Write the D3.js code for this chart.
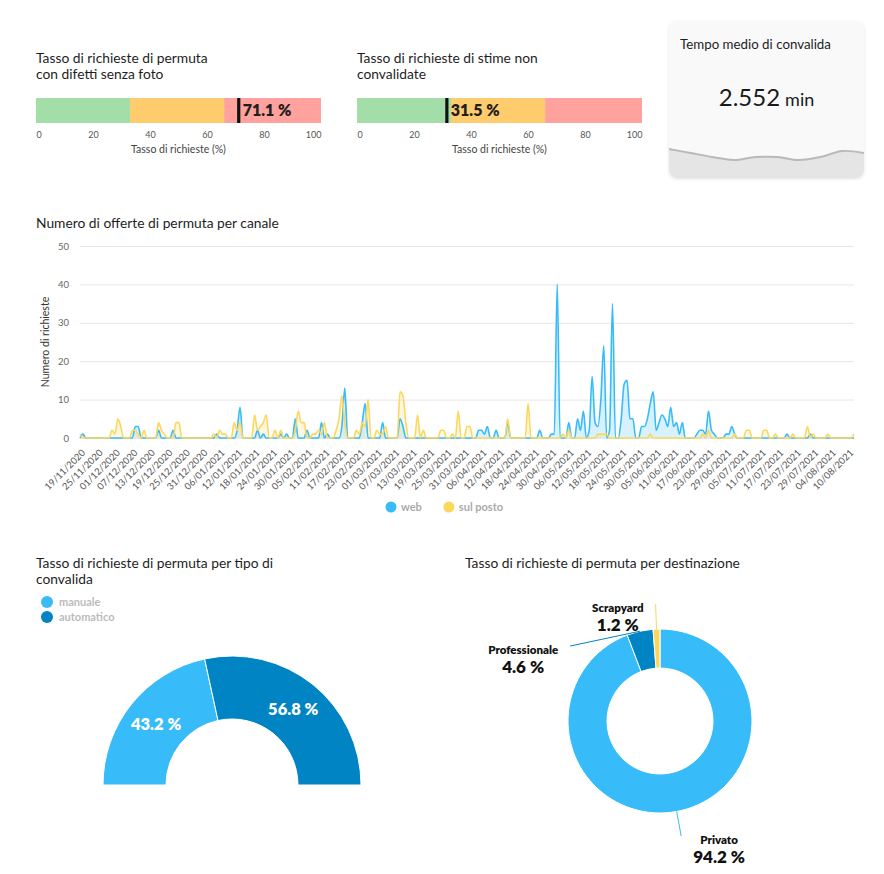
<!DOCTYPE html>
<html>
<head>
<meta charset="utf-8">
<script src="https://cdn.jsdelivr.net/npm/d3@7"></script>
<style>
  body { margin: 0; background: #fff; }
  svg text { font-family: Lato, "Noto Sans", sans-serif; }
</style>
</head>
<body>
<svg id="chart" width="884" height="874"></svg>
<script>
// ---- data ----
const gaugeTitles = [
  ["Tasso di richieste di permuta", "con difetti senza foto"],
  ["Tasso di richieste di stime non", "convalidate"]
]
const gaugeValues = [71.1, 31.5]
const gaugeBands = [0, 33, 66, 100]
const gaugeTicks = [0, 20, 40, 60, 80, 100]
const gaugeAxisTitle = "Tasso di richieste (%)"

const cardTitle = "Tempo medio di convalida"
const cardValue = "2.552"
const cardUnit = "min"
const cardWave = [29, 25, 21, 18, 21, 21, 18, 21, 27, 25]

const lineTitle = "Numero di offerte di permuta per canale"
const lineYTitle = "Numero di richieste"
const firstDay = new Date(Date.UTC(2020, 10, 19))
const seriesNames = ["web", "sul posto"]
const yTicks = [0, 10, 20, 30, 40, 50]
// daily counts from 19/11/2020 to 12/08/2021
const webCounts = [
  0,1,0,0,0,0,0,0,0,0,  0,0,0,0,0,0,0,0,0,3,  3,0,0,0,0,0,0,2,0,0,
  0,0,2,0,0,0,0,0,0,0,  0,0,0,0,0,0,0,1,0,0,  0,0,0,0,2,8,0,0,0,0,
  0,2,0,1,0,0,0,0,0,1,  0,1,0,0,5,0,0,0,2,0,  0,0,0,4,0,1,0,0,0,0,
  3,13,0,0,0,0,0,4,9,0, 0,0,0,0,4,0,0,0,0,0,  5,3,0,0,0,0,0,0,0,0,
  0,0,0,0,0,0,0,0,0,0,  0,0,0,0,0,0,0,2,2,1,  3,0,0,2,0,0,0,4,0,0,
  0,0,0,0,0,0,0,0,2,0,  0,0,1,1,40,0,0,0,4,0, 0,5,2,7,0,2,16,4,3,10,
  24,0,2,35,0,0,5,14,15,5, 5,0,0,3,3,5,9,12,2,4, 6,5,3,8,3,4,1,4,0,0,
  0,0,1,2,2,1,7,2,1,0,  0,0,1,1,3,1,0,0,0,0,  0,0,0,0,0,0,0,0,0,0,
  0,0,0,1,0,0,0,0,0,0,  0,1,0,0,0,0,0,0,0,0,  0,0,0,0,0,0,0
]
const sulPostoCounts = [
  1,0,0,0,0,0,0,0,0,0,  0,2,1,5,3,0,0,0,2,2,  1,0,2,0,0,0,0,4,2,1,
  0,0,0,4,4,0,0,0,0,0,  0,0,0,0,0,0,1,0,2,1,  1,0,0,4,2,4,0,0,0,0,
  6,2,3,4,6,0,0,2,0,2,  0,0,0,0,2,7,4,4,0,0,  1,1,2,1,4,0,0,0,2,5,
  11,4,0,0,0,2,1,4,3,10, 0,0,2,1,1,3,0,0,0,0, 12,11,4,0,0,0,6,0,2,0,
  0,0,0,0,2,2,0,0,1,0,  7,0,0,3,3,0,0,0,0,0,  0,0,0,0,0,0,0,5,0,0,
  0,0,0,0,9,0,0,0,0,0,  0,0,0,0,0,0,1,0,2,0,  0,0,0,0,0,0,0,0,1,1,
  1,1,0,0,0,0,0,0,0,0,  0,0,0,0,0,0,1,0,0,0,  0,0,0,0,0,0,0,0,0,0,
  0,0,0,0,1,0,2,0,0,0,  0,0,0,0,0,1,0,0,0,2,  2,0,0,0,0,2,2,0,0,1,
  0,0,0,0,0,1,0,0,0,0,  3,0,1,0,0,0,0,1,0,0,  0,0,0,0,0,0,1
]

const validationTitle = ["Tasso di richieste di permuta per tipo di", "convalida"]
const validationTypes = ["manuale", "automatico"]
const validationShares = [43.2, 56.8]

const destinationTitle = "Tasso di richieste di permuta per destinazione"
const destinations = ["Privato", "Professionale", "Scrapyard"]
const destinationShares = [94.2, 4.6, 1.2]

// ---- colours ----
const lightBlue = "#38bcf9"
const darkBlue = "#0084c4"
const yellow = "#fbd75e"
const bandColours = ["#a3dea9", "#fecb6d", "#ffa19c"]
const titleSize = 13.8

const svg = d3.select("#chart")
const fmt = v => String(v) + " %"

// ---- gauges ----
const gaugeLeft = [36, 357]
const gaugeWidth = 285, gaugeTop = 98, gaugeH = 25

gaugeValues.forEach(function (val, i) {
  const g = svg.append("g").attr("transform", `translate(${gaugeLeft[i]},${gaugeTop})`)
  const x = d3.scaleLinear().domain([0, 100]).range([0, gaugeWidth])

  g.selectAll("text.title").data(gaugeTitles[i]).join("text")
    .attr("class", "title")
    .attr("x", 0).attr("y", (d, j) => -35 + j * 16)
    .attr("font-size", titleSize).attr("fill", "#1e1e1e")
    .text(d => d)

  g.selectAll("rect.band").data(d3.pairs(gaugeBands)).join("rect")
    .attr("class", "band")
    .attr("x", d => x(d[0])).attr("width", d => x(d[1]) - x(d[0]))
    .attr("y", 0).attr("height", gaugeH)
    .attr("fill", (d, j) => bandColours[j])

  g.append("rect")
    .attr("x", x(val) - 1.5).attr("width", 3.2)
    .attr("y", 0).attr("height", gaugeH)
    .attr("fill", "#111")

  g.append("text")
    .attr("x", x(val) + 4).attr("y", gaugeH / 2).attr("dy", "0.36em")
    .attr("font-size", 16).attr("font-weight", 800).attr("fill", "#1e1e1e")
    .text(fmt(val))

  const axis = g.append("g").attr("transform", `translate(0,${gaugeH})`)
    .call(d3.axisBottom(x).tickValues(gaugeTicks).tickSize(0).tickPadding(9))
  axis.select(".domain").remove()
  axis.selectAll("text")
    .attr("font-size", 9).attr("fill", "#555").style("font-family", "Lato, sans-serif")
    .attr("text-anchor", (d, j) => j === 0 ? "start" : (j === gaugeTicks.length - 1 ? "end" : "middle"))

  g.append("text")
    .attr("x", gaugeWidth / 2).attr("y", 55)
    .attr("text-anchor", "middle").attr("font-size", 10.5).attr("fill", "#444")
    .text(gaugeAxisTitle)
})

// ---- KPI card ----
const card = { x: 669, y: 21, w: 195, h: 157 }
const defs = svg.append("defs")
defs.append("filter").attr("id", "shadow").attr("x", "-10%").attr("y", "-10%").attr("width", "120%").attr("height", "120%")
  .append("feDropShadow").attr("dx", 0).attr("dy", 1).attr("stdDeviation", 1.5)
  .attr("flood-color", "#000").attr("flood-opacity", 0.12)
defs.append("clipPath").attr("id", "cardClip")
  .append("rect").attr("x", card.x).attr("y", card.y).attr("width", card.w).attr("height", card.h).attr("rx", 8)

svg.append("rect")
  .attr("x", card.x).attr("y", card.y).attr("width", card.w).attr("height", card.h).attr("rx", 8)
  .attr("fill", "#f9f9f9").attr("filter", "url(#shadow)")

const waveX = d3.scaleLinear().domain([0, cardWave.length - 1]).range([card.x, card.x + card.w])
const waveY = d3.scaleLinear().domain([0, 30]).range([card.y + card.h, card.y + card.h - 30])
const waveG = svg.append("g").attr("clip-path", "url(#cardClip)")
waveG.append("path")
  .attr("d", d3.area().x((d, i) => waveX(i)).y0(card.y + card.h).y1(d => waveY(d)).curve(d3.curveCatmullRom)(cardWave))
  .attr("fill", "#e5e5e5")
waveG.append("path")
  .attr("d", d3.line().x((d, i) => waveX(i)).y(d => waveY(d)).curve(d3.curveCatmullRom)(cardWave))
  .attr("fill", "none").attr("stroke", "#b9b9b9").attr("stroke-width", 2)

svg.append("text").attr("x", card.x + 11).attr("y", 48.5)
  .attr("font-size", 13.3).attr("fill", "#1e1e1e").text(cardTitle)
const kpi = svg.append("text").attr("x", card.x + card.w / 2).attr("y", 106)
  .attr("text-anchor", "middle").attr("fill", "#1a1a1a")
kpi.append("tspan").attr("font-size", 24).text(cardValue)
kpi.append("tspan").attr("font-size", 18).attr("dx", 5).text(cardUnit)

// ---- line chart ----
const plot = { left: 80, right: 854, top: 246, bottom: 438 }
svg.append("text").attr("x", 36).attr("y", 227.5)
  .attr("font-size", titleSize).attr("fill", "#1e1e1e").text(lineTitle)

const days = webCounts.map((d, i) => d3.utcDay.offset(firstDay, i))
const x = d3.scaleUtc().domain([days[0], days[days.length - 1]]).range([plot.left, plot.right])
const y = d3.scaleLinear().domain([0, 50]).range([plot.bottom, plot.top])

const yAxis = svg.append("g").attr("transform", `translate(${plot.left},0)`)
  .call(d3.axisLeft(y).tickValues(yTicks).tickSize(-(plot.right - plot.left)).tickPadding(11))
yAxis.select(".domain").remove()
yAxis.selectAll("line").attr("stroke", "#e6e6e6")
yAxis.selectAll("text").attr("font-size", 9.5).attr("fill", "#666").style("font-family", "Lato, sans-serif")

svg.append("text")
  .attr("transform", `translate(49,${(plot.top + plot.bottom) / 2}) rotate(-90)`)
  .attr("text-anchor", "middle").attr("font-size", 10.5).attr("fill", "#333")
  .text(lineYTitle)

const tickDates = d3.range(0, days.length, 6).map(i => days[i])
const xAxis = svg.append("g").attr("transform", `translate(0,${plot.bottom})`)
  .call(d3.axisBottom(x).tickValues(tickDates).tickFormat(d3.utcFormat("%d/%m/%Y")).tickSize(0))
xAxis.select(".domain").remove()
xAxis.selectAll("text")
  .attr("font-size", 9.5).attr("fill", "#555").style("font-family", "Lato, sans-serif")
  .attr("text-anchor", "end")
  .attr("dy", "0.35em")
  .attr("transform", "translate(3,13) rotate(-45)")
  .attr("y", 0)

const seriesData = [webCounts, sulPostoCounts]
const seriesColours = [lightBlue, yellow]
const area = d3.area().x((d, i) => x(days[i])).y0(y(0)).y1(d => y(d)).curve(d3.curveMonotoneX)
const line = d3.line().x((d, i) => x(days[i])).y(d => y(d)).curve(d3.curveMonotoneX)

svg.selectAll("path.area").data(seriesData).join("path")
  .attr("class", "area")
  .attr("d", area)
  .attr("fill", (d, i) => seriesColours[i]).attr("fill-opacity", 0.2)
svg.selectAll("path.line").data(seriesData).join("path")
  .attr("class", "line")
  .attr("d", line)
  .attr("fill", "none").attr("stroke", (d, i) => seriesColours[i]).attr("stroke-width", 1.6)

// legend
let lx = 386
seriesNames.forEach(function (name, i) {
  const lg = svg.append("g").attr("transform", `translate(${lx},507)`)
  lg.append("circle").attr("cx", 5).attr("cy", 0).attr("r", 5.5).attr("fill", seriesColours[i])
  const t = lg.append("text").attr("x", 15).attr("dy", "0.35em")
    .attr("font-size", 11).attr("font-weight", 700).attr("fill", "#aaa").text(name)
  lx += 15 + t.node().getComputedTextLength() + 22
})

// ---- semi donut ----
svg.selectAll("text.vtitle").data(validationTitle).join("text")
  .attr("class", "vtitle")
  .attr("x", 36).attr("y", (d, i) => 567.5 + i * 16)
  .attr("font-size", titleSize).attr("fill", "#1e1e1e").text(d => d)

const validationColours = [lightBlue, darkBlue]
validationTypes.forEach(function (name, i) {
  svg.append("circle").attr("cx", 47).attr("cy", 602 + i * 15).attr("r", 6).attr("fill", validationColours[i])
  svg.append("text").attr("x", 59).attr("y", 602 + i * 15).attr("dy", "0.35em")
    .attr("font-size", 11).attr("font-weight", 700).attr("fill", "#bbb").text(name)
})

const semi = svg.append("g").attr("transform", "translate(232,785)")
const semiPie = d3.pie().sort(null).startAngle(-Math.PI / 2).endAngle(Math.PI / 2)
const semiArc = d3.arc().innerRadius(66).outerRadius(129)
const semiArcs = semiPie(validationShares)
semi.selectAll("path").data(semiArcs).join("path")
  .attr("d", semiArc)
  .attr("fill", (d, i) => validationColours[i])
  .attr("stroke", "#fff").attr("stroke-width", 1)
semi.selectAll("text").data(semiArcs).join("text")
  .attr("transform", d => `translate(${semiArc.centroid(d)})`)
  .attr("text-anchor", "middle").attr("dy", "0.36em")
  .attr("font-size", 16.5).attr("font-weight", 800).attr("fill", "#fff")
  .text(d => fmt(d.data))

// ---- donut ----
svg.append("text").attr("x", 465).attr("y", 567.5)
  .attr("font-size", titleSize).attr("fill", "#1e1e1e").text(destinationTitle)

const destColours = [lightBlue, darkBlue, yellow]
const R = 92, r = 53, labelR = 117
const donut = svg.append("g").attr("transform", "translate(660,721)")
const pie = d3.pie().sort(null)
const arc = d3.arc().innerRadius(r).outerRadius(R)
const arcs = pie(destinationShares)
donut.selectAll("path").data(arcs).join("path")
  .attr("d", arc)
  .attr("fill", (d, i) => destColours[i])
  .attr("stroke", "#fff").attr("stroke-width", 1)

// label angles: mid angle, pushed apart when too close
const minGap = 48 * Math.PI / 180
const labelAngles = arcs.map(d => (d.startAngle + d.endAngle) / 2)
for (let i = labelAngles.length - 2; i >= 0; i--) {
  if (labelAngles[i + 1] - labelAngles[i] < minGap) labelAngles[i] = labelAngles[i + 1] - minGap
}

arcs.forEach(function (d, i) {
  const mid = (d.startAngle + d.endAngle) / 2
  const a = labelAngles[i]
  const sx = R * Math.sin(mid), sy = -R * Math.cos(mid)
  const ex = labelR * Math.sin(a), ey = -labelR * Math.cos(a)
  donut.append("line")
    .attr("x1", sx).attr("y1", sy).attr("x2", ex).attr("y2", ey)
    .attr("stroke", destColours[i]).attr("stroke-width", 1)

  const lg = donut.append("g")
  const t1 = lg.append("text").attr("y", ey + 8).attr("text-anchor", "middle")
    .attr("font-size", 11.5).attr("font-weight", 800).attr("fill", "#111").text(destinations[i])
  const t2 = lg.append("text").attr("y", ey + 27).attr("text-anchor", "middle")
    .attr("font-size", 17).attr("font-weight", 800).attr("fill", "#111").text(fmt(d.data))
  const w = Math.max(t1.node().getComputedTextLength(), t2.node().getComputedTextLength())
  const cx = ex >= 0 ? ex + 12 + w / 2 : ex - 12 - w / 2
  t1.attr("x", cx)
  t2.attr("x", cx)
})
</script>
</body>
</html>
